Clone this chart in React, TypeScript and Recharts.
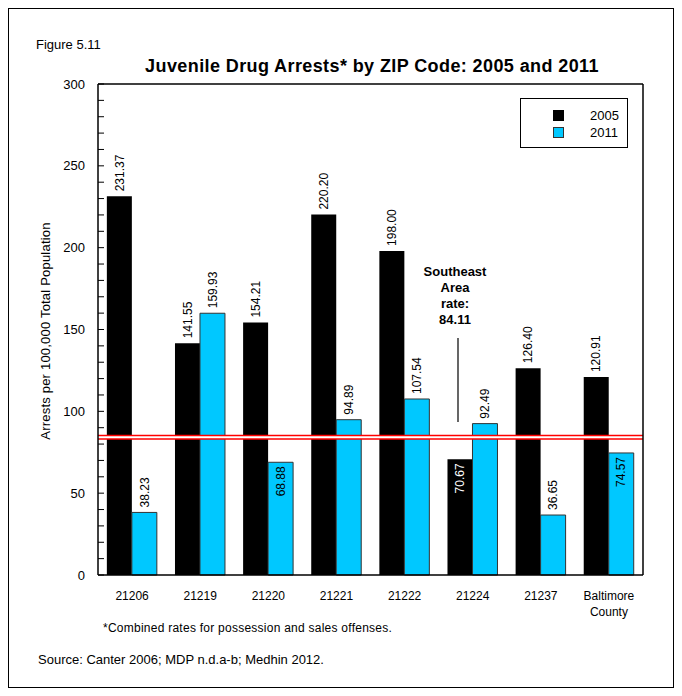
import { BarChart, Bar, XAxis, YAxis, ReferenceLine, LabelList, Legend } from 'recharts';

const zipCodes = ['21206', '21219', '21220', '21221', '21222', '21224', '21237', 'Baltimore County'];
const rates2005 = [231.37, 141.55, 154.21, 220.2, 198.0, 70.67, 126.4, 120.91];
const rates2011 = [38.23, 159.93, 68.88, 94.89, 107.54, 92.49, 36.65, 74.57];
const yTicks = [0, 10, 20, 30, 40, 50, 60, 70, 80, 90, 100, 110, 120, 130, 140, 150, 160, 170, 180, 190, 200, 210, 220, 230, 240, 250, 260, 270, 280, 290, 300];
const southeastRate = 84.11;
// bars whose value label sits inside the top of the bar
const inside2005 = ['21224'];
const inside2011 = ['21220', 'Baltimore County'];

const data = zipCodes.map((zip, i) => ({ zip, y2005: rates2005[i], y2011: rates2011[i] }));

const FONT = '"Liberation Sans", Arial, sans-serif';
const BLUE = '#00C8FF';

function LeftTick(props: any) {
  const { x, y, payload } = props;
  const v = payload.value;
  return (
    <g>
      <line x1={x} x2={x + 6} y1={y} y2={y} stroke="#000" strokeWidth={1} />
      {v % 50 === 0 && (
        <text x={x - 13} y={y} dy="0.35em" textAnchor="end" fontSize={13} fontFamily={FONT} fill="#000">
          {v}
        </text>
      )}
    </g>
  );
}

function RightTick(props: any) {
  const { x, y } = props;
  return <line x1={x - 6} x2={x} y1={y} y2={y} stroke="#000" strokeWidth={1} />;
}

function ZipTick(props: any) {
  const { x, y, payload } = props;
  const lines = String(payload.value).split(' ');
  return (
    <text x={x} y={y + 25} textAnchor="middle" fontSize={12} fontFamily={FONT} fill="#000">
      {lines.map((l, i) => (
        <tspan key={i} x={x} dy={i === 0 ? 0 : 16}>
          {l}
        </tspan>
      ))}
    </text>
  );
}

function makeLabel(insideList: string[], insideColor: string) {
  return (props: any) => {
    const { x, y, width, value, index } = props;
    const cx = x + width / 2;
    const inside = insideList.includes(data[index].zip);
    const ty = inside ? y + 4 : y - 5;
    return (
      <text
        x={cx}
        y={ty}
        dy="0.35em"
        transform={`rotate(-90, ${cx}, ${ty})`}
        textAnchor={inside ? 'end' : 'start'}
        fontSize={12}
        fontFamily={FONT}
        fill={inside ? insideColor : '#000'}
      >
        {Number(value).toFixed(2)}
      </text>
    );
  };
}

function LegendBox(props: any) {
  const { payload } = props;
  return (
    <div
      style={{
        width: 108,
        height: 50,
        border: '1px solid #000',
        boxSizing: 'border-box',
        background: '#fff',
        fontFamily: FONT,
        fontSize: 13,
        paddingTop: 8,
      }}
    >
      {(payload || []).map((p: any) => (
        <div key={p.value} style={{ display: 'flex', alignItems: 'center', height: 17 }}>
          <span
            style={{
              display: 'inline-block',
              width: 11,
              height: 11,
              marginLeft: 32,
              boxSizing: 'border-box',
              background: p.color,
              border: p.color === BLUE ? '1px solid #333' : 'none',
            }}
          />
          <span style={{ marginLeft: 26 }}>{p.value}</span>
        </div>
      ))}
    </div>
  );
}

export default function App() {
  return (
    <div style={{ position: 'relative', width: 666, height: 680, border: '1px solid #000', boxSizing: 'border-box' }}>
      <div style={{ position: 'absolute', left: -1, top: -1 }}>
        <BarChart
          width={666}
          height={640}
          data={data}
          margin={{ top: 66, right: 21, bottom: 33, left: 50 }}
          barCategoryGap="13%"
          barGap={0}
        >
          <XAxis
            dataKey="zip"
            interval={0}
            tick={<ZipTick />}
            tickLine={false}
            tickSize={0}
            tickMargin={0}
            height={40}
            axisLine={{ stroke: '#000', strokeWidth: 1.5 }}
          />
          <XAxis
            xAxisId="top"
            dataKey="zip"
            orientation="top"
            tick={false}
            tickLine={false}
            height={10}
            axisLine={{ stroke: '#000', strokeWidth: 1.5 }}
          />
          <YAxis
            domain={[0, 300]}
            ticks={yTicks}
            interval={0}
            tick={<LeftTick />}
            tickLine={false}
            tickSize={0}
            tickMargin={0}
            width={40}
            axisLine={{ stroke: '#000', strokeWidth: 1.5 }}
          />
          <YAxis
            yAxisId="right"
            orientation="right"
            type="number"
            domain={[0, 300]}
            ticks={yTicks}
            interval={0}
            tick={<RightTick />}
            tickLine={false}
            tickSize={0}
            tickMargin={0}
            width={10}
            axisLine={{ stroke: '#000', strokeWidth: 1.5 }}
          />
          <Legend
            layout="horizontal"
            verticalAlign="middle"
            align="center"
            content={<LegendBox />}
            wrapperStyle={{ position: 'absolute', left: 512, top: 90, width: 108, height: 50 }}
          />
          <Bar dataKey="y2005" name="2005" fill="#000" isAnimationActive={false}>
            <LabelList dataKey="y2005" content={makeLabel(inside2005, '#fff')} />
          </Bar>
          <Bar dataKey="y2011" name="2011" fill={BLUE} stroke="#333" strokeWidth={1} isAnimationActive={false}>
            <LabelList dataKey="y2011" content={makeLabel(inside2011, '#000')} />
          </Bar>
          <ReferenceLine y={southeastRate} stroke="#FF0000" strokeWidth={5} />
          <ReferenceLine y={southeastRate} stroke="#fff" strokeWidth={2} />
        </BarChart>
      </div>
      <svg
        width={666}
        height={680}
        style={{ position: 'absolute', left: -1, top: -1, pointerEvents: 'none' }}
        fontFamily={FONT}
      >
        <text x={28} y={41} fontSize={13}>Figure 5.11</text>
        <text x={364} y={64} fontSize={18} fontWeight="bold" textAnchor="middle" letterSpacing={0.4}>
          Juvenile Drug Arrests* by ZIP Code: 2005 and 2011
        </text>
        <text
          x={37}
          y={323}
          dy="0.35em"
          fontSize={13}
          textAnchor="middle"
          letterSpacing={0.2}
          transform="rotate(-90, 37, 323)"
        >
          Arrests per 100,000 Total Population
        </text>
        <g fontSize={13} fontWeight="bold" textAnchor="middle">
          <text x={447} y={268}>Southeast</text>
          <text x={447} y={284}>Area</text>
          <text x={447} y={300}>rate:</text>
          <text x={447} y={316}>{southeastRate.toFixed(2)}</text>
        </g>
        <line x1={450} x2={450} y1={330} y2={414} stroke="#000" strokeWidth={1.2} />
        <text x={95} y={624} fontSize={12} letterSpacing={0.25}>
          *Combined rates for possession and sales offenses.
        </text>
        <text x={30} y={656} fontSize={13}>Source: Canter 2006; MDP n.d.a-b; Medhin 2012.</text>
      </svg>
    </div>
  );
}
